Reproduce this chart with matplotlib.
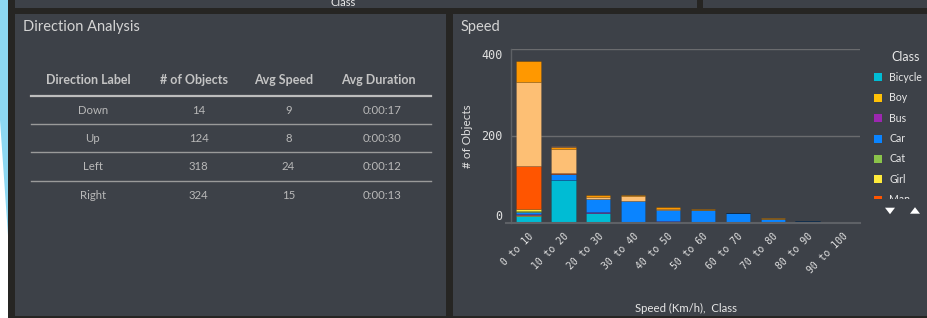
import matplotlib
matplotlib.use("Agg")
import matplotlib.pyplot as plt
import numpy as np
from matplotlib.patches import Rectangle, Polygon

# ---------------- data ----------------
speed_bins = ["0 to 10", "10 to 20", "20 to 30", "30 to 40", "40 to 50",
              "50 to 60", "60 to 70", "70 to 80", "80 to 90", "90 to 100"]
classes = ["Bicycle", "Boy", "Bus", "Car", "Cat", "Girl", "Man", "Person", "Woman", "Truck"]
bicycle = [15, 99, 23, 1, 1, 0, 0, 0, 0, 0]
boy     = [3, 0, 0, 0, 0, 0, 0, 0, 0, 0]
bus     = [2, 0, 1, 0, 2, 0, 1, 0, 0, 0]
car     = [4, 13, 30, 50, 26, 30, 20.5, 9.5, 4.6, 1.8]
cat     = [4, 0, 0, 0, 0, 0, 0, 0, 0, 0]
girl    = [4, 0, 0, 0, 0, 0, 0, 0, 0, 0]
man     = [98, 3, 0, 0, 1, 0, 0, 0, 0, 0]
person  = [195, 56, 5, 10, 2, 0, 0, 0, 0, 0]
woman   = [49, 3, 4, 2, 4, 1.5, 0, 1, 0, 0]
truck   = [0, 3, 1, 0, 0, 0, 0, 0, 0, 0]
series = [bicycle, boy, bus, car, cat, girl, man, person, woman, truck]
colors = ["#00bcd4", "#ffc107", "#9c27b0", "#0a84ff", "#8bc34a", "#ffeb3b",
          "#ff5500", "#fdbf74", "#ff9800", "#8d6e63"]
legend_shown = ["Bicycle", "Boy", "Bus", "Car", "Cat", "Girl", "Man"]

table_cols = ["Direction Label", "# of Objects", "Avg Speed", "Avg Duration"]
directions = ["Down", "Up", "Left", "Right"]
n_objects = [14, 124, 318, 324]
avg_speed = [9, 8, 24, 15]
avg_duration = ["0:00:17", "0:00:30", "0:00:12", "0:00:13"]
y_ticks = [0, 200, 400]

# ---------------- figure ----------------
W, H = 927, 318
fig = plt.figure(figsize=(W / 100, H / 100), dpi=100)
fig.patch.set_facecolor("#ffffff")

PANEL = "#3d4148"
DARK = "#262523"

def fx(x):
    return x / W

def fy(y):
    return 1 - y / H

def rect(x0, y0, x1, y1, color, z=0):
    fig.patches.append(Rectangle((fx(x0), fy(y1)), fx(x1) - fx(x0), fy(y0) - fy(y1),
                                 transform=fig.transFigure, facecolor=color,
                                 edgecolor="none", zorder=z))

# light blue decorative strip at the far left
fig.patches.append(Polygon([(fx(0), fy(0)), (fx(9), fy(0)), (fx(9), fy(250)), (fx(0), fy(120))],
                           closed=True, transform=fig.transFigure,
                           facecolor="#8dd8f2", edgecolor="none", zorder=0))
rect(8, 0, W, H, DARK)
# top strip panels
rect(15, 0, 697, 8, PANEL)
rect(703, 0, W, 8, PANEL)
fig.text(fx(343), fy(2.5), "Class", fontsize=8, color="#e8e8e8", family="Lato",
         ha="center", va="center", zorder=6)
# main panels
rect(15, 14, 446, 316, PANEL)
rect(453, 14, W, 316, PANEL)

# ---------------- left: table ----------------
fig.text(fx(23), fy(27), "Direction Analysis", fontsize=10.5, color="#d4d4d4",
         family="Lato", ha="left", va="center", zorder=6)
head_x = [88.7, 194, 284, 378.7]
cell_x = [92.7, 198.7, 288.3, 382.3]
for hx, name in zip(head_x, table_cols):
    fig.text(fx(hx), fy(80), name, fontsize=9, color="#c4c4c4", family="Lato",
             fontweight="bold", ha="center", va="center", zorder=6)
fig.add_artist(plt.Line2D([fx(31), fx(431)], [fy(95.7), fy(95.7)], color="#bdbdbd",
                          lw=1.6, transform=fig.transFigure, zorder=6))
row_y = [110.3, 138.7, 167, 195.3]
for i, (d, n, s, du) in enumerate(zip(directions, n_objects, avg_speed, avg_duration)):
    for cx, val in zip(cell_x, [d, str(n), str(s), du]):
        fig.text(fx(cx), fy(row_y[i]), val, fontsize=8.2, color="#b8b8b8", family="Lato",
                 ha="center", va="center", zorder=6)
for ly in [124.3, 152.3, 180.7]:
    fig.add_artist(plt.Line2D([fx(31), fx(431)], [fy(ly), fy(ly)], color="#9a9a9a",
                              lw=1.0, transform=fig.transFigure, zorder=6))

# ---------------- right: stacked bar chart ----------------
fig.text(fx(461), fy(27), "Speed", fontsize=10.5, color="#d4d4d4", family="Lato",
         ha="left", va="center", zorder=6)

ax_l, ax_r, ax_t, ax_b = 511, 860, 49.3, 222.7
ax = fig.add_axes([fx(ax_l), fy(ax_b), fx(ax_r) - fx(ax_l), fy(ax_t) - fy(ax_b)])
ax.set_zorder(10)
ax.set_facecolor("none")
x = np.arange(len(speed_bins))
bottom = np.zeros(len(speed_bins))
for vals, col, name in zip(series, colors, classes):
    v = np.array(vals, dtype=float)
    ax.bar(x, v, bottom=bottom, width=0.7, color=col, edgecolor=(0, 0, 0, 0.12),
           linewidth=0.6, label=name, zorder=3)
    bottom += v
ax.set_xlim(-0.5, len(speed_bins) - 0.5)
ax.set_ylim(0, 400)
for sp in ["top", "right", "bottom"]:
    ax.spines[sp].set_visible(False)
ax.spines["left"].set_color("#5e6166")
ax.spines["left"].set_linewidth(1.0)
for gy in [200, 400]:
    ax.axhline(gy, color="#6a6b6e", lw=1.0, zorder=1)
ax.plot([-0.65, len(speed_bins) - 0.5], [0, 0], color="#5e6166", lw=1.5,
        clip_on=False, zorder=4)

ax.set_yticks(y_ticks)
ax.set_yticklabels([str(t) for t in y_ticks], family="DejaVu Sans Mono",
                   fontsize=8.5, color="#e0e0e0")
for lab, va in zip(ax.get_yticklabels(), ["bottom", "center", "top"]):
    lab.set_va(va)
ax.tick_params(axis="y", length=0, pad=6)
ax.set_xticks(x)
ax.set_xticklabels(speed_bins, rotation=45, ha="right", va="top",
                   rotation_mode="anchor", family="DejaVu Sans Mono",
                   fontsize=7, color="#e0e0e0")
ax.tick_params(axis="x", length=0, pad=6)

ax.set_ylabel("# of Objects", family="Lato", fontsize=8.5, color="#e0e0e0", labelpad=6)
fig.text(fx(686), fy(308), "Speed (Km/h),  Class", family="Lato", fontsize=8.2,
         color="#e8e8e8", ha="center", va="center", zorder=6)

# ---------------- legend (scrollable, clipped) ----------------
fig.text(fx(920), fy(57), "Class", family="Lato", fontsize=9, color="#e8e8e8",
         ha="right", va="center", zorder=6)
clip = Rectangle((fx(860), fy(199)), fx(927) - fx(860), fy(65) - fy(199),
                 transform=fig.transFigure, facecolor="none", edgecolor="none")
fig.patches.append(clip)
leg_y0, leg_dy = 77.3, 20.4
for i, name in enumerate(legend_shown):
    cy = leg_y0 + i * leg_dy
    col = colors[classes.index(name)]
    sq = Rectangle((fx(874), fy(cy + 4)), fx(8), 8 / H, transform=fig.transFigure,
                   facecolor=col, edgecolor="none", zorder=5)
    fig.patches.append(sq)
    sq.set_clip_path(clip)
    t = fig.text(fx(889), fy(cy), name, family="Lato", fontsize=7.6, color="#e8e8e8",
                 ha="left", va="center", zorder=6)
    t.set_clip_path(clip)
for px, up in [(890, False), (915, True)]:
    yc = 210.7
    if up:
        pts = [(px - 5, yc + 3), (px + 5, yc + 3), (px, yc - 3.5)]
    else:
        pts = [(px - 5, yc - 3), (px + 5, yc - 3), (px, yc + 3.5)]
    fig.patches.append(Polygon([(fx(a), fy(b)) for a, b in pts], closed=True,
                               transform=fig.transFigure, facecolor="white",
                               edgecolor="none", zorder=5))

fig.savefig("out.png", dpi=100, facecolor=fig.get_facecolor())
